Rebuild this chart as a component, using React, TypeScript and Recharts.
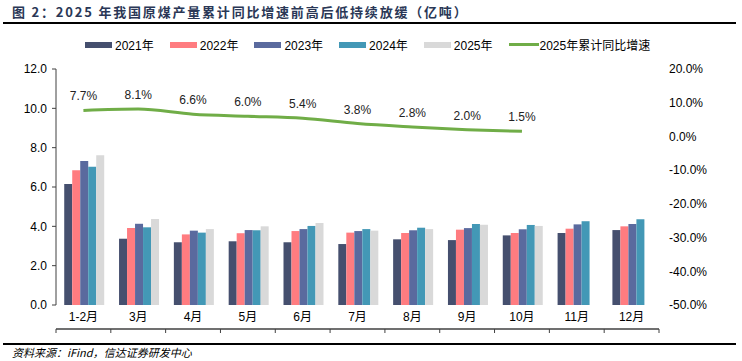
import React from 'react';
import { ComposedChart, Bar, Line, XAxis, YAxis, Legend, LabelList } from 'recharts';

const categories = ['1-2月', '3月', '4月', '5月', '6月', '7月', '8月', '9月', '10月', '11月', '12月'];
const prod2021 = [6.15, 3.37, 3.19, 3.24, 3.19, 3.10, 3.34, 3.30, 3.54, 3.66, 3.81];
const prod2022 = [6.85, 3.91, 3.59, 3.65, 3.76, 3.68, 3.66, 3.83, 3.66, 3.88, 4.00];
const prod2023 = [7.32, 4.13, 3.78, 3.81, 3.86, 3.76, 3.80, 3.91, 3.85, 4.10, 4.12];
const prod2024 = [7.03, 3.95, 3.68, 3.80, 4.02, 3.86, 3.93, 4.12, 4.07, 4.26, 4.36];
const prod2025: (number | null)[] = [7.62, 4.37, 3.86, 4.00, 4.17, 3.78, 3.86, 4.08, 4.02, null, null];
const yoy2025: (number | null)[] = [7.7, 8.1, 6.6, 6.0, 5.4, 3.8, 2.8, 2.0, 1.5, null, null];

const leftTicks = [0, 2, 4, 6, 8, 10, 12];
const rightTicks = [-50, -40, -30, -20, -10, 0, 10, 20];
const boundaryTicks = [0, 1, 2, 3, 4, 5, 6, 7, 8, 9, 10, 11];

const title = '图 2：2025 年我国原煤产量累计同比增速前高后低持续放缓（亿吨）';
const source = '资料来源：iFind，信达证券研发中心';

const colors = {
  y2021: '#454F6E',
  y2022: '#FF7C80',
  y2023: '#5A6A9E',
  y2024: '#4398B6',
  y2025: '#D9D9D9',
  yoy: '#70AD47',
};

const data = categories.map((name, i) => ({
  name,
  idx: i + 0.5,
  y2021: prod2021[i],
  y2022: prod2022[i],
  y2023: prod2023[i],
  y2024: prod2024[i],
  y2025: prod2025[i],
  yoy: yoy2025[i],
}));

const FONT = "'Liberation Sans', Arial, 'Noto Sans CJK SC', sans-serif";

const LegendContent = (props: any) => {
  const payload = props.payload || [];
  return (
    <div style={{ display: 'flex', alignItems: 'center', fontFamily: FONT, fontSize: 12, color: '#000', paddingLeft: 85 }}>
      {payload.map((p: any, i: number) => {
        const isLine = p.type === 'line';
        return (
          <div key={i} style={{ display: 'flex', alignItems: 'center', marginRight: 16 }}>
            <span
              style={{
                display: 'inline-block',
                width: isLine ? 30 : 27,
                height: isLine ? 3 : 6,
                background: p.color,
                marginRight: isLine ? 1 : 3,
              }}
            />
            <span>{p.value}</span>
          </div>
        );
      })}
    </div>
  );
};

export default function App() {
  return (
    <div style={{ position: 'absolute', left: 0, top: 0, width: 742, height: 361, background: '#fff' }}>
      <div
        style={{
          position: 'absolute',
          left: 12,
          top: 4,
          lineHeight: '16px',
          fontSize: 13,
          fontWeight: 'bold',
          letterSpacing: '1.8px',
          color: '#2A3756',
          fontFamily: "'Noto Sans CJK SC', sans-serif",
          whiteSpace: 'nowrap',
        }}
      >
        {title}
      </div>
      <div style={{ position: 'absolute', left: 3, top: 22, width: 733, height: 2, background: '#000' }} />
      <ComposedChart
        width={742}
        height={361}
        data={data}
        margin={{ top: 69, right: 0, left: 0, bottom: 26 }}
        barCategoryGap="15%"
        barGap={0}
      >
        <XAxis
          xAxisId="grid"
          type="number"
          dataKey="idx"
          domain={[0, 11]}
          ticks={boundaryTicks}
          tickFormatter={() => ''}
          tickSize={4}
          tickLine={{ stroke: '#404040' }}
          axisLine={{ stroke: '#404040', strokeWidth: 1.5 }}
          height={6}
          allowDataOverflow
        />
        <XAxis
          xAxisId="cat"
          dataKey="name"
          axisLine={false}
          tickLine={false}
          tickSize={0}
          tickMargin={7}
          height={24}
          interval={0}
          tick={{ fontSize: 12, fill: '#000', fontFamily: FONT }}
        />
        <YAxis
          yAxisId="left"
          width={56}
          domain={[0, 12]}
          ticks={leftTicks}
          tickFormatter={(v: number) => v.toFixed(1)}
          tickSize={4}
          tickMargin={5}
          axisLine={{ stroke: '#404040' }}
          tickLine={{ stroke: '#404040' }}
          tick={{ fontSize: 12, fill: '#000', fontFamily: FONT }}
        />
        <YAxis
          yAxisId="right"
          orientation="right"
          width={83}
          domain={[-50, 20]}
          ticks={rightTicks}
          tickFormatter={(v: number) => v.toFixed(1) + '%'}
          axisLine={false}
          tickLine={false}
          tickSize={0}
          tickMargin={10}
          tick={{ fontSize: 12, fill: '#000', fontFamily: FONT, textAnchor: 'start' }}
        />
        <Legend
          layout="vertical"
          align="center"
          verticalAlign="middle"
          wrapperStyle={{ position: 'absolute', top: 36, left: 0, width: 742 }}
          content={<LegendContent />}
        />
        <Bar xAxisId="cat" yAxisId="left" dataKey="y2021" name="2021年" fill={colors.y2021} isAnimationActive={false} />
        <Bar xAxisId="cat" yAxisId="left" dataKey="y2022" name="2022年" fill={colors.y2022} isAnimationActive={false} />
        <Bar xAxisId="cat" yAxisId="left" dataKey="y2023" name="2023年" fill={colors.y2023} isAnimationActive={false} />
        <Bar xAxisId="cat" yAxisId="left" dataKey="y2024" name="2024年" fill={colors.y2024} isAnimationActive={false} />
        <Bar xAxisId="cat" yAxisId="left" dataKey="y2025" name="2025年" fill={colors.y2025} isAnimationActive={false} />
        <Line
          xAxisId="cat"
          yAxisId="right"
          dataKey="yoy"
          name="2025年累计同比增速"
          type="monotone"
          stroke={colors.yoy}
          strokeWidth={3}
          dot={false}
          activeDot={false}
          legendType="line"
          isAnimationActive={false}
        >
          <LabelList
            dataKey="yoy"
            position="top"
            offset={10}
            formatter={(v: any) => (v == null ? '' : Number(v).toFixed(1) + '%')}
            style={{ fontSize: 12, fill: '#222', fontFamily: FONT }}
          />
        </Line>
      </ComposedChart>
      <div style={{ position: 'absolute', left: 3, top: 343, width: 733, height: 2, background: '#000' }} />
      <div
        style={{
          position: 'absolute',
          left: 12,
          top: 345,
          lineHeight: '14px',
          fontSize: 11,
          fontStyle: 'italic',
          color: '#000',
          fontFamily: "'Noto Sans CJK SC', sans-serif",
          whiteSpace: 'nowrap',
        }}
      >
        {source}
      </div>
    </div>
  );
}
